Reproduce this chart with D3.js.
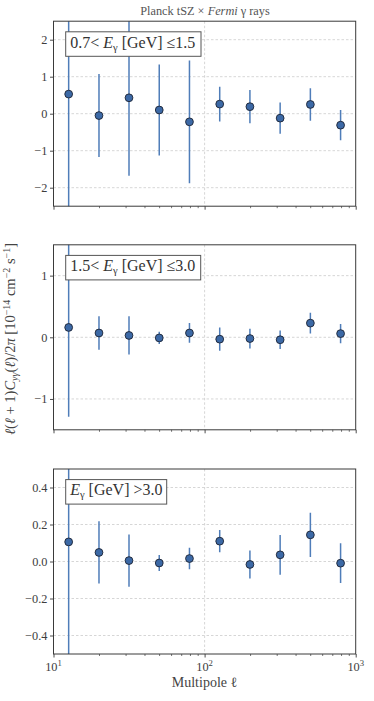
<!DOCTYPE html>
<html>
<head>
<meta charset="utf-8">
<script src="https://cdn.jsdelivr.net/npm/d3@7"></script>
<style>
  html, body { margin: 0; padding: 0; background: #fff; }
  svg { display: block; }
  text { font-family: "Liberation Serif", "DejaVu Serif", serif; }
</style>
</head>
<body>
<svg id="chart" width="374" height="701"></svg>
<script>
// ---- data ----
const ell = [12.6, 20.0, 31.6, 50.1, 79.4, 125.9, 199.5, 316.2, 501.2, 794.3];

const vals1 = [0.53, -0.05, 0.43, 0.10, -0.22, 0.26, 0.19, -0.12, 0.25, -0.31];
const errs1 = [3.4, 1.12, 2.11, 1.23, 1.66, 0.47, 0.45, 0.42, 0.44, 0.41];

const vals2 = [0.16, 0.07, 0.03, -0.01, 0.07, -0.03, -0.02, -0.04, 0.23, 0.06];
const errs2 = [1.45, 0.27, 0.31, 0.10, 0.16, 0.19, 0.16, 0.15, 0.17, 0.155];

const vals3 = [0.106, 0.049, 0.005, -0.008, 0.016, 0.110, -0.016, 0.036, 0.144, -0.009];
const errs3 = [0.7, 0.168, 0.141, 0.043, 0.058, 0.060, 0.076, 0.107, 0.120, 0.107];

const yTicks1 = [-2, -1, 0, 1, 2];
const yTicks2 = [-1, 0, 1];
const yTicks3 = [-0.4, -0.2, 0.0, 0.2, 0.4];
const yDomain1 = [-2.5, 2.5];
const yDomain2 = [-1.5, 1.5];
const yDomain3 = [-0.5, 0.5];
const xTickExps = [1, 2, 3];

const xLabelText = "Multipole ℓ";

// ---- layout ----
const svg = d3.select("#chart");
const left = 53.5, right = 355.7;
const panelH = 185, panelTops = [21.2, 244.8, 469.0];

const x = d3.scaleLog().domain([10, 1000]).range([left, right]);

const minusFmt = s => s.replace("-", "\u2212\u2009");
const panels = [
  { vals: vals1, errs: errs1, ticks: yTicks1, domain: yDomain1, fmt: d => minusFmt(d3.format("d")(d)), boxW: 135.3 },
  { vals: vals2, errs: errs2, ticks: yTicks2, domain: yDomain2, fmt: d => minusFmt(d3.format("d")(d)), boxW: 135.0 },
  { vals: vals3, errs: errs3, ticks: yTicks3, domain: yDomain3, fmt: d => minusFmt(d3.format(".1f")(d)), boxW: 101.0 }
];

const minorTicks = [];
[10, 100].forEach(b => { for (let k = 2; k <= 9; k++) minorTicks.push(b * k); });

const spineColor = "#3a3a3a";
const tickLabelColor = "#3d3d3d";

panels.forEach((p, i) => {
  const top = panelTops[i];
  const bottom = top + panelH;
  const y = d3.scaleLinear().domain(p.domain).range([bottom, top]);
  const g = svg.append("g");

  const clipId = "clip" + i;
  svg.append("clipPath").attr("id", clipId)
    .append("rect").attr("x", left).attr("y", top).attr("width", right - left).attr("height", panelH);

  // grid
  g.selectAll(".hgrid").data(p.ticks).join("line")
    .attr("x1", left).attr("x2", right)
    .attr("y1", d => y(d)).attr("y2", d => y(d))
    .attr("stroke", "#cccccc").attr("stroke-width", 0.8).attr("stroke-dasharray", "2.5,2");
  g.selectAll(".vgrid").data([100]).join("line")
    .attr("x1", d => x(d)).attr("x2", d => x(d))
    .attr("y1", top).attr("y2", bottom)
    .attr("stroke", "#cccccc").attr("stroke-width", 0.8).attr("stroke-dasharray", "2.5,2");

  // error bars
  const pts = ell.map((l, j) => ({ l, v: p.vals[j], e: p.errs[j] }));
  g.append("g").attr("clip-path", `url(#${clipId})`)
    .selectAll("line").data(pts).join("line")
    .attr("x1", d => x(d.l)).attr("x2", d => x(d.l))
    .attr("y1", d => y(d.v - d.e)).attr("y2", d => y(d.v + d.e))
    .attr("stroke", "#4f7db9").attr("stroke-width", 1.5);

  // markers
  g.append("g").selectAll("circle").data(pts).join("circle")
    .attr("cx", d => x(d.l)).attr("cy", d => y(d.v))
    .attr("r", 3.9)
    .attr("fill", "#3c69a6").attr("stroke", "#1d2433").attr("stroke-width", 0.9);

  // y axis
  const yAxis = d3.axisLeft(y).tickValues(p.ticks).tickFormat(p.fmt).tickSize(3.5).tickPadding(2.5);
  const ya = g.append("g").attr("transform", `translate(${left},0)`).call(yAxis);
  ya.select(".domain").remove();
  ya.selectAll(".tick line").attr("stroke", spineColor).attr("stroke-width", 0.9);
  ya.selectAll(".tick text").attr("fill", tickLabelColor)
    .style("font-family", '"Liberation Serif", serif').style("font-size", "12.3px");

  // x axis ticks
  const xAxis = d3.axisBottom(x).tickValues([10, 100, 1000]).tickSize(3.5).tickFormat("");
  const xa = g.append("g").attr("transform", `translate(0,${bottom})`).call(xAxis);
  xa.select(".domain").remove();
  xa.selectAll(".tick line").attr("stroke", spineColor).attr("stroke-width", 0.9);
  const xMinor = d3.axisBottom(x).tickValues(minorTicks).tickSize(2).tickFormat("");
  const xm = g.append("g").attr("transform", `translate(0,${bottom})`).call(xMinor);
  xm.select(".domain").remove();
  xm.selectAll(".tick line").attr("stroke", spineColor).attr("stroke-width", 0.7);

  if (i === 2) {
    const lab = g.append("g").selectAll("text").data(xTickExps).join("text")
      .attr("x", d => x(Math.pow(10, d)))
      .attr("y", bottom + 16.5)
      .attr("text-anchor", "middle")
      .attr("fill", tickLabelColor)
      .style("font-size", "12.3px");
    lab.append("tspan").text("10");
    lab.append("tspan").attr("dy", -5).style("font-size", "8.7px").text(d => d);
  }

  // spines
  g.append("rect").attr("x", left).attr("y", top).attr("width", right - left).attr("height", panelH)
    .attr("fill", "none").attr("stroke", spineColor).attr("stroke-width", 1);

  // legend box
  const bx = 65.7, by = top + 10.6, bh = 24.5;
  g.append("rect").attr("x", bx).attr("y", by).attr("width", p.boxW).attr("height", bh)
    .attr("fill", "#fff").attr("stroke", "#555").attr("stroke-width", 1);
  const t = g.append("text").attr("x", bx + 4.5).attr("y", by + 15.8)
    .attr("fill", "#333").style("font-size", "16px");
  if (i === 0) t.append("tspan").text("0.7< ");
  if (i === 1) t.append("tspan").text("1.5< ");
  t.append("tspan").style("font-style", "italic").text("E");
  t.append("tspan").attr("dy", 3).style("font-size", "10.5px").text("γ");
  t.append("tspan").attr("dy", -3).text(" [GeV] ");
  if (i === 0) t.append("tspan").text("≤1.5");
  if (i === 1) t.append("tspan").text("≤3.0");
  if (i === 2) t.append("tspan").text(">3.0");
});

// title
const title = svg.append("text").attr("x", 205).attr("y", 15).attr("text-anchor", "middle")
  .attr("fill", "#555").style("font-size", "12.3px");
title.append("tspan").text("Planck tSZ × ");
title.append("tspan").style("font-style", "italic").text("Fermi");
title.append("tspan").text(" γ rays");

// x label
svg.append("text").attr("x", 204.5).attr("y", 687).attr("text-anchor", "middle")
  .attr("fill", "#444").style("font-size", "14px").text(xLabelText);

// y label
const yl = svg.append("text").attr("transform", "translate(14.5,339) rotate(-90)")
  .attr("text-anchor", "middle").attr("fill", "#444").style("font-size", "14.5px");
yl.append("tspan").style("font-style", "italic").text("ℓ");
yl.append("tspan").text("(");
yl.append("tspan").style("font-style", "italic").text("ℓ");
yl.append("tspan").text(" + 1)");
yl.append("tspan").style("font-style", "italic").text("C");
yl.append("tspan").attr("dy", 3).style("font-size", "10px").style("font-style", "italic").text("yγ");
yl.append("tspan").attr("dy", -3).text("(");
yl.append("tspan").style("font-style", "italic").text("ℓ");
yl.append("tspan").text(")/2");
yl.append("tspan").style("font-style", "italic").text("π");
yl.append("tspan").text(" [10");
yl.append("tspan").attr("dy", -5).style("font-size", "10px").text("−14");
yl.append("tspan").attr("dy", 5).text(" cm");
yl.append("tspan").attr("dy", -5).style("font-size", "10px").text("−2");
yl.append("tspan").attr("dy", 5).text(" s");
yl.append("tspan").attr("dy", -5).style("font-size", "10px").text("−1");
yl.append("tspan").attr("dy", 5).text("]");
</script>
</body>
</html>
